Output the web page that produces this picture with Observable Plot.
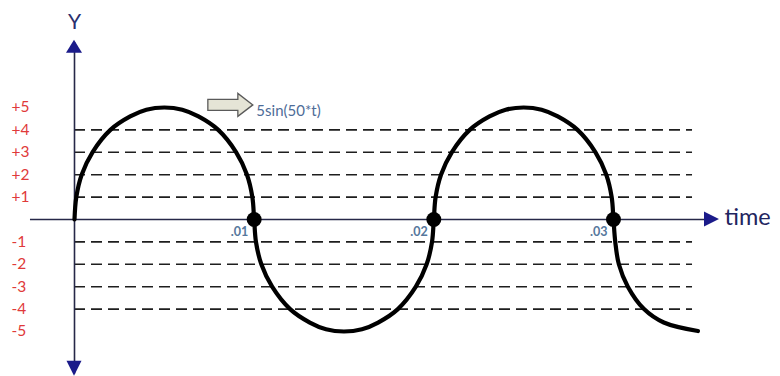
<!DOCTYPE html>
<html>
<head>
<meta charset="utf-8">
<script src="https://cdn.jsdelivr.net/npm/d3@7"></script>
<script src="https://cdn.jsdelivr.net/npm/@observablehq/plot@0.6"></script>
<style>
  html, body { margin: 0; padding: 0; background: #fff; }
</style>
</head>
<body>
<div id="chart"></div>
<script>
// Waveform samples [t, y], traced one half-wave at a time
const arc1 = [[0,0],[0.0001,1],[0.0004,2],[0.001,3],[0.002,4],[0.0031,4.6],[0.004,4.9],[0.005,5],[0.006,4.9],[0.0069,4.6],[0.008,4],[0.009,3],[0.0096,2],[0.0099,1]];
const arc2 = [[0.01,0],[0.0101,-1],[0.0104,-2],[0.011,-3],[0.012,-4],[0.0131,-4.6],[0.014,-4.9],[0.015,-5],[0.016,-4.9],[0.0169,-4.6],[0.018,-4],[0.019,-3],[0.0196,-2],[0.0199,-1]];
const arc3 = [[0.02,0],[0.0201,1],[0.0204,2],[0.021,3],[0.022,4],[0.0231,4.6],[0.024,4.9],[0.025,5],[0.026,4.9],[0.0269,4.6],[0.028,4],[0.029,3],[0.0296,2],[0.0299,1]];
const arc4 = [[0.03,0],[0.0301,-1],[0.0303,-2],[0.0308,-3],[0.0317,-4],[0.0328,-4.6],[0.0347,-4.98]];

// Zero crossings marked with dots, and their time labels
const crossings = [0.01, 0.02, 0.03];
const crossingLabels = [".01", ".02", ".03"];

// Amplitude labels and dashed reference levels
const levels = [5, 4, 3, 2, 1, -1, -2, -3, -4, -5];
const gridLevels = [4, 3, 2, 1, -1, -2, -3, -4];

// Extents of the axes and the reference lines (data units)
const gridEnd = 0.0344;
const timeAxis = [-0.00245, 0.0352];
const timeTip = 0.0359;
const ampAxis = [-6.9, 7.9];
const ampTopTip = 8.0;
const ampBottomTip = -7.0;

// Where the formula note sits
const note = {t: 0.00745, y: 5.05, text: "5sin(50*t)"};

const wave = arc1.concat(arc2, arc3, arc4);
const font = "Lato, 'Open Sans', sans-serif";

const plot = Plot.plot({
  width: 780,
  height: 376,
  marginLeft: 74,
  marginRight: 77.2,
  marginTop: 107,
  marginBottom: 45,
  x: {domain: [0, 0.035], axis: null},
  y: {domain: [-5, 5], axis: null},
  style: {background: "#fff", fontFamily: font, overflow: "visible"},
  marks: [
    Plot.ruleY(gridLevels, {x1: () => 0, x2: () => gridEnd, stroke: "#1e1e1e", strokeWidth: 1.6, strokeDasharray: "11,6"}),
    Plot.ruleY([0], {x1: () => timeAxis[0], x2: () => timeAxis[1], stroke: "#262848", strokeWidth: 1.6}),
    Plot.ruleX([0], {y1: () => ampAxis[0], y2: () => ampAxis[1], stroke: "#262848", strokeWidth: 1.6}),
    Plot.line(wave, {x: d => d[0], y: d => d[1], curve: "catmull-rom", stroke: "#000", strokeWidth: 4.2, strokeLinecap: "round", strokeLinejoin: "round"}),
    Plot.dot(crossings, {x: d => d, y: () => 0, r: 7.5, fill: "#000", stroke: "none"}),
    Plot.text(crossings, {x: d => d, y: () => 0, text: (d, i) => crossingLabels[i], textAnchor: "end", dx: -6, dy: 12, fill: "#56779c", fontWeight: "bold", fontSize: 12.5}),
    Plot.text(levels, {x: () => 0, y: d => d, text: d => (d > 0 ? "+" + d : String(d)), textAnchor: "start", dx: -63, fill: "#e03a3a", fontSize: 15.5}),
    Plot.text(["Y"], {x: () => 0, y: () => ampTopTip, dy: -18, fill: "#2b2f6e", fontSize: 21}),
    Plot.text(["time"], {x: () => timeTip, y: () => 0, dx: 5, dy: -2, textAnchor: "start", fill: "#1f2560", fontSize: 23.5}),
    Plot.text([note], {x: d => d.t, y: d => d.y, text: d => d.text, textAnchor: "start", dx: 48, dy: 5, fill: "#4e6c98", fontSize: 15})
  ]
});

document.getElementById("chart").appendChild(plot);

// Arrowheads on the axes and the block arrow of the note, placed through the plot's scales
const sx = plot.scale("x"), sy = plot.scale("y");
const X = v => sx.apply(v), Y = v => sy.apply(v);
const svg = d3.select(plot);
const head = "#1b1b8a";

const x0 = X(0), yTop = Y(ampTopTip), yBot = Y(ampBottomTip), yZero = Y(0), xTip = X(timeTip);
svg.append("path")
  .attr("d", `M${x0},${yTop} L${x0 + 8},${yTop + 13} L${x0 - 8},${yTop + 13} Z`)
  .attr("fill", head);
svg.append("path")
  .attr("d", `M${x0},${yBot} L${x0 + 7.5},${yBot - 15} L${x0 - 7.5},${yBot - 15} Z`)
  .attr("fill", head);
svg.append("path")
  .attr("d", `M${xTip},${yZero} L${xTip - 15},${yZero - 7.5} L${xTip - 15},${yZero + 7.5} Z`)
  .attr("fill", head);

const ax = X(note.t), ay = Y(note.y) - 1;
svg.append("path")
  .attr("d", `M${ax},${ay - 5.5} H${ax + 30} V${ay - 11.5} L${ax + 45},${ay} L${ax + 30},${ay + 11.5} V${ay + 5.5} H${ax} Z`)
  .attr("fill", "#e5e4d6")
  .attr("stroke", "#5a5a5a")
  .attr("stroke-width", 1.3)
  .attr("stroke-linejoin", "miter");
</script>
</body>
</html>
